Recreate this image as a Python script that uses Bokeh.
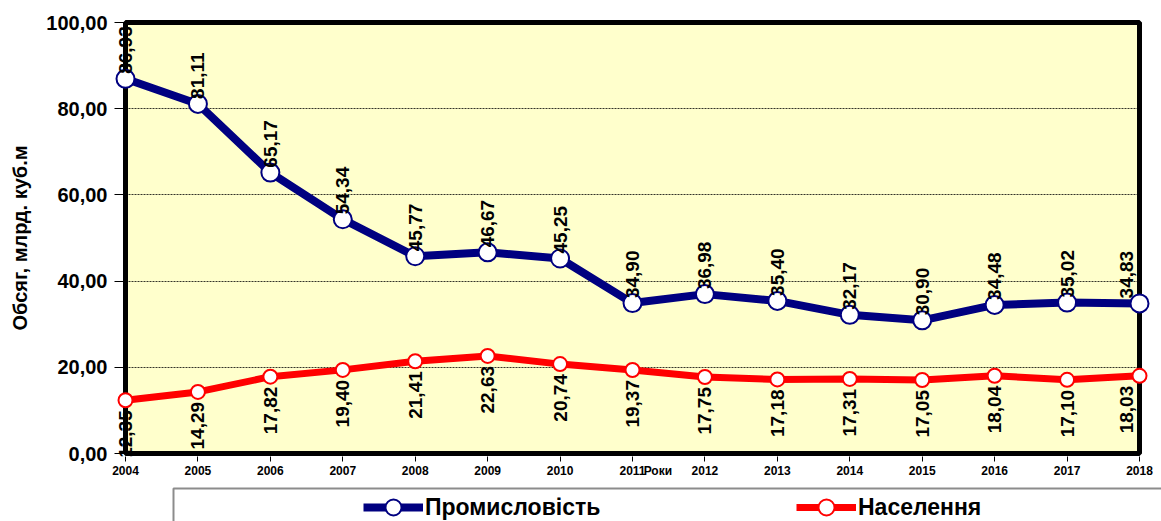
import math
from bokeh.plotting import figure
from bokeh.layouts import column
from bokeh.models import (ColumnDataSource, Range1d, FixedTicker, LabelSet,
                          Legend, LegendItem, BoxAnnotation)
from bokeh.core.properties import value
from bokeh.embed import file_html
from bokeh.resources import INLINE

years = [2004, 2005, 2006, 2007, 2008, 2009, 2010, 2011, 2012, 2013, 2014, 2015, 2016, 2017, 2018]
industry = [86.93, 81.11, 65.17, 54.34, 45.77, 46.67, 45.25, 34.90, 36.98, 35.40, 32.17, 30.90, 34.48, 35.02, 34.83]
population = [12.35, 14.29, 17.82, 19.40, 21.41, 22.63, 20.74, 19.37, 17.75, 17.18, 17.31, 17.05, 18.04, 17.10, 18.03]
y_ticks = [0, 20, 40, 60, 80, 100]
y_tick_labels = ["0,00", "20,00", "40,00", "60,00", "80,00", "100,00"]
series_names = ["Промисловість", "Населення"]
x_title = "Роки"
x_title_pos = 2011.35
y_title = "Обсяг, млрд. куб.м"

FONT = "Liberation Sans"
BLUE = "#000080"
RED = "#FF0000"
W = 1161
H_MAIN = 483
H_LEG = 38

# pixel geometry of the plotting area (yellow box) and of the bokeh frame
AREA_L, AREA_R, AREA_T, AREA_B = 125, 1139, 22, 453
FR_L, FR_R, FR_T, FR_B = 114, W, 19, 456
x0, x1 = years[0], years[-1]
pxx = (AREA_R - AREA_L) / (x1 - x0)
pxy = (AREA_B - AREA_T) / (y_ticks[-1] - y_ticks[0])

def fmt(v):
    return f"{v:.2f}".replace(".", ",")

# the last point's labels are pulled inside the plot area (as in the original)
label_dx = [(-13 if y == x1 else 0) for y in years]

src = ColumnDataSource(dict(
    x=years, ind=industry, pop=population,
    ind_lbl=[fmt(v) for v in industry],
    pop_lbl=[fmt(v) for v in population],
    dx=label_dx,
))

p = figure(width=W, height=H_MAIN, output_backend="svg", toolbar_location=None,
           x_range=Range1d(x0 - (AREA_L - FR_L) / pxx, x1 + (FR_R - AREA_R) / pxx),
           y_range=Range1d(y_ticks[0] - (FR_B - AREA_B) / pxy, y_ticks[-1] + (AREA_T - FR_T) / pxy),
           min_border_left=FR_L, min_border_right=W - FR_R, min_border_top=FR_T,
           min_border_bottom=H_MAIN - FR_B)

p.background_fill_color = "white"
p.border_fill_color = "white"
p.outline_line_color = None

area = BoxAnnotation(left=x0, right=x1, bottom=y_ticks[0], top=y_ticks[-1],
                     fill_color="#FFFFCC", fill_alpha=1, line_color="black", line_alpha=1,
                     line_width=5, level="image")
p.add_layout(area)

p.xgrid.grid_line_color = None
p.ygrid.grid_line_color = "black"
p.ygrid.grid_line_width = 1
p.ygrid.grid_line_dash = "2 1"
p.ygrid.grid_line_alpha = 0.8
p.ygrid.cross_bounds = (x0, x1)

p.yaxis.ticker = FixedTicker(ticks=y_ticks)
p.yaxis.major_label_overrides = {t: l for t, l in zip(y_ticks, y_tick_labels)}
p.yaxis.axis_line_color = None
p.yaxis.major_tick_out = 0
p.yaxis.major_tick_in = AREA_L - FR_L
p.yaxis.minor_tick_line_color = None
p.yaxis.major_label_standoff = 7
p.yaxis.major_label_text_font = FONT
p.yaxis.major_label_text_font_style = "bold"
p.yaxis.major_label_text_font_size = "20px"
p.yaxis.major_label_text_color = "black"
p.yaxis.axis_label = y_title
p.yaxis.axis_label_text_font = FONT
p.yaxis.axis_label_text_font_style = "bold"
p.yaxis.axis_label_text_font_size = "20px"
p.yaxis.axis_label_text_color = "black"
p.yaxis.axis_label_standoff = 12

x_major = years + [x_title_pos]
p.xaxis.ticker = FixedTicker(ticks=x_major, minor_ticks=years)
p.xaxis.major_label_overrides = {**{y: str(y) for y in years}, x_title_pos: x_title}
p.xaxis.axis_line_color = None
p.xaxis.major_tick_line_color = None
p.xaxis.major_tick_out = 5
p.xaxis.major_tick_in = 0
p.xaxis.minor_tick_line_color = "black"
p.xaxis.minor_tick_out = 5
p.xaxis.minor_tick_in = 0
p.xaxis.major_label_standoff = 2
p.xaxis.major_label_text_font = FONT
p.xaxis.major_label_text_font_style = "bold"
p.xaxis.major_label_text_font_size = "12px"
p.xaxis.major_label_text_color = "black"

p.line("x", "ind", source=src, line_color=BLUE, line_width=8)
p.scatter("x", "ind", source=src, size=18, fill_color="white", line_color=BLUE, line_width=2)
p.line("x", "pop", source=src, line_color=RED, line_width=7)
p.scatter("x", "pop", source=src, size=14, fill_color="white", line_color=RED, line_width=2)

lbl_ind = LabelSet(x="x", y="ind", text="ind_lbl", source=src, angle=math.pi / 2,
                   text_align="left", text_baseline="middle", y_offset=5, x_offset="dx",
                   text_font=value(FONT), text_font_style="bold", text_font_size="19px",
                   text_color="black")
lbl_pop = LabelSet(x="x", y="pop", text="pop_lbl", source=src, angle=math.pi / 2,
                   text_align="right", text_baseline="middle", y_offset=-10, x_offset="dx",
                   text_font=value(FONT), text_font_style="bold", text_font_size="19px",
                   text_color="black")
p.add_layout(lbl_ind)
p.add_layout(lbl_pop)

# ---- legend strip (x and y in window pixels) ----
q = figure(width=W, height=H_LEG, output_backend="svg", toolbar_location=None,
           x_range=Range1d(FR_L, W), y_range=Range1d(H_MAIN + H_LEG, H_MAIN),
           x_axis_type=None, y_axis_type=None,
           min_border_left=FR_L, min_border_right=0, min_border_top=0, min_border_bottom=0)
q.grid.visible = False
q.outline_line_color = None
q.background_fill_color = "white"
q.border_fill_color = "white"

LEG_BOX_L, LEG_BOX_T = 173, 488
q.add_layout(BoxAnnotation(left=LEG_BOX_L, right=W + 200, top=LEG_BOX_T, bottom=H_MAIN + H_LEG + 200,
                           fill_alpha=0, line_color="#8C8C8C", line_alpha=1, line_width=2))

# legend renderers (same series; their data lie outside this strip's ranges)
ql1 = q.line("x", "ind", source=src, line_color=BLUE, line_width=8)
qc1 = q.scatter("x", "ind", source=src, size=18, fill_color="white", line_color=BLUE, line_width=2)
ql2 = q.line("x", "pop", source=src, line_color=RED, line_width=7)
qc2 = q.scatter("x", "pop", source=src, size=14, fill_color="white", line_color=RED, line_width=2)

GH = 40
LEG_GLYPH_L, LEG_CENTER = 363, 507
legend = Legend(items=[LegendItem(label=series_names[0], renderers=[ql1, qc1]),
                       LegendItem(label=series_names[1], renderers=[ql2, qc2])],
                orientation="horizontal",
                location=(LEG_GLYPH_L - FR_L, (H_MAIN + H_LEG) - (LEG_CENTER + GH / 2)),
                glyph_width=60, glyph_height=GH, label_height=GH, label_width=371,
                label_standoff=2, spacing=0, padding=0, margin=0,
                border_line_alpha=0, background_fill_alpha=0,
                label_text_font=FONT, label_text_font_style="bold", label_text_font_size="23px",
                label_text_color="black")
q.add_layout(legend)

layout = column(p, q, spacing=0)
open("out.html", "w").write(file_html(layout, INLINE))
